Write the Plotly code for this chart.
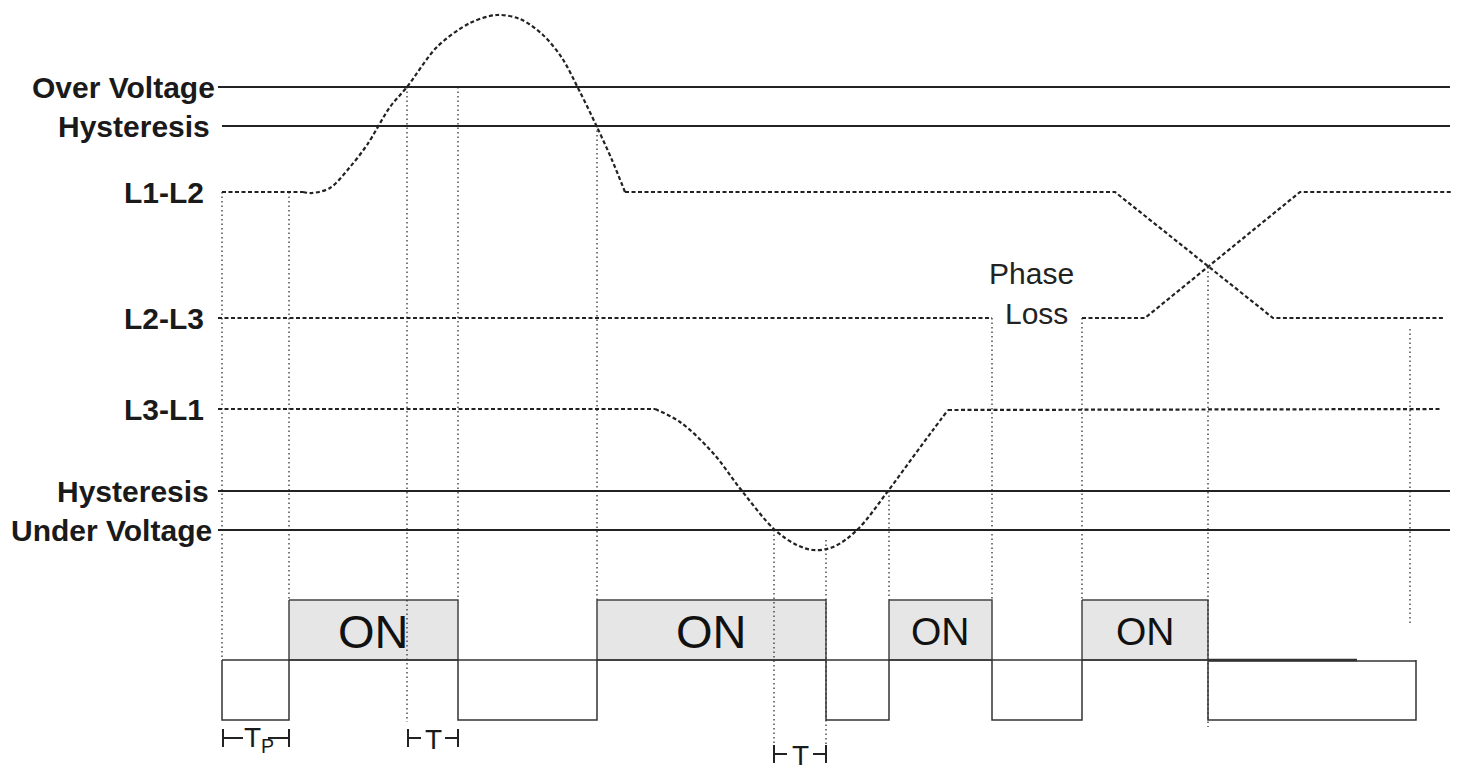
import plotly.graph_objects as go

# ---------------- data (diagram units: x = time, y = level, downward) ----------------
threshold_labels = ["Over Voltage", "Hysteresis", "Hysteresis", "Under Voltage"]
threshold_levels = [87, 126, 491, 530]
threshold_start = [218, 222, 218, 218]
threshold_label_x = [217, 212, 211, 214]
threshold_end = 1450

phase_labels = ["L1-L2", "L2-L3", "L3-L1"]
phase_levels = [192, 318, 409]
phase_label_x = [206, 206, 206]

# L1-L2: flat, over-voltage excursion (smooth), then linear part
l12_flat_t = [222, 303]
l12_flat_v = [192, 192]
l12_curve_t = [303, 312, 330, 350, 367, 390, 407, 437, 470, 497,
               520, 543, 562, 580, 597, 612, 625]
l12_curve_v = [192, 193, 188, 167, 145, 107, 87, 47, 23, 15,
               19, 35, 58, 92, 127, 160, 192]
l12_line_t = [625, 1115, 1273, 1443]
l12_line_v = [192, 192, 318, 318]

# L2-L3: phase loss gap, then crossover
l23_a_t = [218, 992]
l23_a_v = [318, 318]
l23_b_t = [1082, 1145, 1300, 1452]
l23_b_v = [318, 318, 192, 192]

# L3-L1: flat, under-voltage excursion, flat
l31_flat1_t = [218, 655]
l31_flat1_v = [409, 409]
l31_curve_t = [655, 680, 713, 742, 775, 797, 813, 833, 857, 888, 913, 933, 948]
l31_curve_v = [409, 422, 453, 491, 530, 545, 550, 547, 530, 491, 457, 430, 410]
l31_flat2_t = [948, 1440]
l31_flat2_v = [410, 409]

# event markers (dotted verticals)
event_t = [222, 289, 407, 458, 597, 774, 826, 889, 992, 1082, 1208, 1410]
event_from = [192, 192, 87, 87, 126, 530, 540, 491, 318, 318, 267, 329]
event_to = [660, 600, 722, 600, 600, 744, 744, 600, 600, 600, 727, 623]

# relay output
relay_on_start = [289, 597, 889, 1082]
relay_on_end = [458, 826, 992, 1208]
relay_on_label_size = [47, 47, 39, 39]
relay_off_start = [222, 458, 826, 992, 1208]
relay_off_end = [289, 597, 889, 1082, 1416]
relay_top, relay_base, relay_low = 600, 660, 720
relay_base_end = 1357

# timing brackets
bracket_x0 = [223, 408, 774]
bracket_x1 = [289, 458, 826]
bracket_y = [738, 738, 754]
bracket_text = ["T<sub>P</sub>", "T", "T"]
bracket_text_x = [259, 433, 800]
bracket_gap = [(243, 268), (421, 445), (787, 813)]

phase_loss_text = ["Phase", "Loss"]
phase_loss_x = [1031, 1036]
phase_loss_y = [273, 313]

# ---------------- figure ----------------
fig = go.Figure()
DARK = "#222222"
DASH = "4px,2.5px"
DOT = "1.5px,3px"
label_font = dict(family="Liberation Sans, Arial, sans-serif", size=30, color="#1a1a1a")
light_font = "Liberation Sans, Arial, sans-serif"


def line(x, y, color=DARK, width=1.5, dash="solid", shape="linear", smoothing=1):
    fig.add_trace(go.Scatter(x=x, y=y, mode="lines", hoverinfo="skip", showlegend=False,
                             line=dict(color=color, width=width, dash=dash, shape=shape,
                                       smoothing=smoothing)))


# gray ON fills
for s, e in zip(relay_on_start, relay_on_end):
    fig.add_trace(go.Scatter(x=[s, e, e, s, s], y=[relay_top, relay_top, relay_base, relay_base, relay_top],
                             mode="lines", fill="toself", fillcolor="#e6e6e6",
                             line=dict(color="#444444", width=1.5), hoverinfo="skip", showlegend=False))
# OFF boxes
for s, e in zip(relay_off_start, relay_off_end):
    line([s, s, e, e], [relay_base, relay_low, relay_low, relay_base], color="#333333", width=1.5)
# baseline
line([relay_off_start[0], relay_base_end], [relay_base, relay_base], color="#333333", width=1.5)
line([relay_on_end[-1], relay_base_end], [relay_base, relay_base], color="#333333", width=2.5)
line([relay_off_start[-1], relay_off_end[-1]], [relay_base + 1, relay_base + 1], color="#333333", width=1.5)

# event dotted verticals
for t, a, b in zip(event_t, event_from, event_to):
    line([t, t], [a, b], color="#333333", width=1.3, dash=DOT)

# thresholds
for lvl, x0 in zip(threshold_levels, threshold_start):
    line([x0, threshold_end], [lvl, lvl], color=DARK, width=1.8)

# phase voltages
W = 2.2
line(l12_flat_t, l12_flat_v, width=W, dash=DASH)
line(l12_curve_t, l12_curve_v, width=W, dash=DASH, shape="spline", smoothing=0.9)
line(l12_line_t, l12_line_v, width=W, dash=DASH)
line(l23_a_t, l23_a_v, width=W, dash=DASH)
line(l23_b_t, l23_b_v, width=W, dash=DASH)
line(l31_flat1_t, l31_flat1_v, width=W, dash=DASH)
line(l31_curve_t, l31_curve_v, width=W, dash=DASH, shape="spline")
line(l31_flat2_t, l31_flat2_v, width=W, dash=DASH)

# timing brackets
for x0, x1, y, (g0, g1), txt, tx in zip(bracket_x0, bracket_x1, bracket_y, bracket_gap,
                                        bracket_text, bracket_text_x):
    line([x0, x0], [y - 9, y + 9], width=2)
    line([x0, g0], [y, y], width=2)
    line([x1, x1], [y - 9, y + 9], width=2)
    line([g1, x1], [y, y], width=2)
    fig.add_annotation(x=tx, y=y + 1, text=txt, showarrow=False,
                       font=dict(family=light_font, size=28, color="#1a1a1a"),
                       xanchor="center", yanchor="middle")

for txt, lvl, x in zip(threshold_labels + phase_labels, threshold_levels + phase_levels,
                       threshold_label_x + phase_label_x):
    fig.add_annotation(x=x, y=lvl, text=f"<b>{txt}</b>", showarrow=False, xanchor="right",
                       yanchor="middle", font=label_font)

for txt, x, y in zip(phase_loss_text, phase_loss_x, phase_loss_y):
    fig.add_annotation(x=x, y=y, text=txt, showarrow=False, xanchor="center", yanchor="middle",
                       font=dict(family="Liberation Sans, Arial, sans-serif", size=30, color="#222222"))

for s, e, sz in zip(relay_on_start, relay_on_end, relay_on_label_size):
    fig.add_annotation(x=(s + e) / 2, y=(relay_top + relay_base) / 2 + 1, text="ON", showarrow=False,
                       xanchor="center", yanchor="middle",
                       font=dict(family=light_font, size=sz, color="#111111"))

# page body has an 8px default margin: shrink the figure and offset the ranges to compensate
PAD = 8
fig.update_layout(
    width=1463 - PAD, height=770 - PAD,
    margin=dict(l=0, r=0, t=0, b=0),
    paper_bgcolor="white", plot_bgcolor="white",
    xaxis=dict(range=[PAD, 1463], visible=False, fixedrange=True),
    yaxis=dict(range=[770, PAD], visible=False, fixedrange=True),
    showlegend=False,
)

fig.write_html("out.html")
